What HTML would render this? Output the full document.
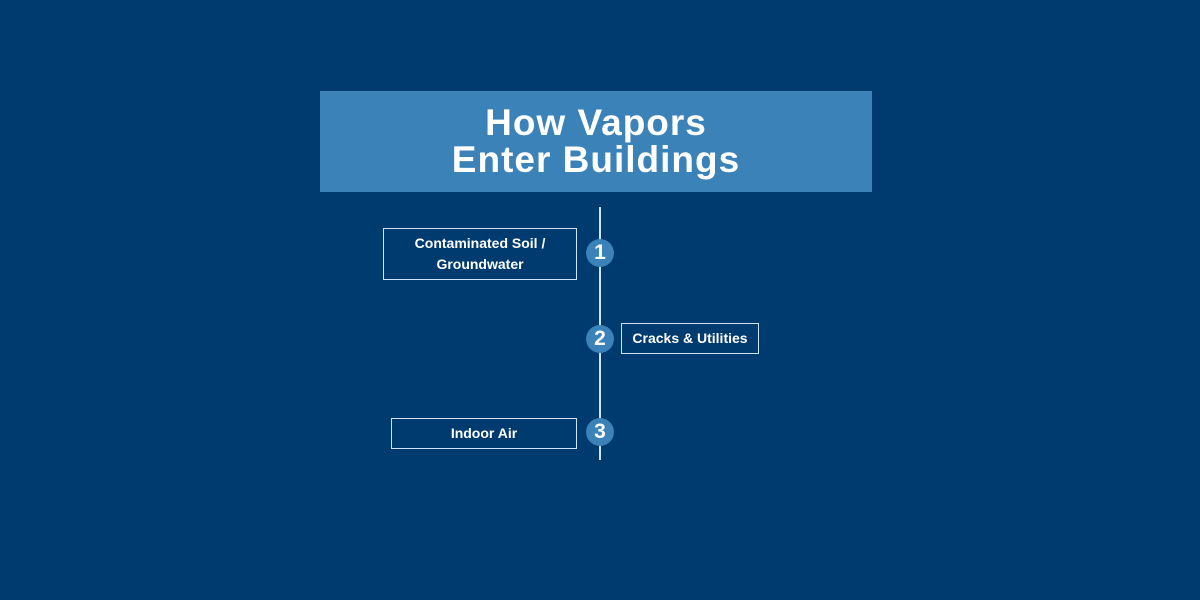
<!DOCTYPE html>
<html><head><style>
body{margin:0;width:1200px;height:600px;background:#003b6f;font-family:"Liberation Sans",sans-serif;position:relative;overflow:hidden}
.t{position:absolute;left:320px;top:91px;width:552px;height:101px;background:#3a82b8;color:#fff;font-weight:bold;font-size:37px;letter-spacing:1px;line-height:37px;text-align:center;box-sizing:border-box;padding-top:13px}
.line{position:absolute;left:599px;top:207px;width:2px;height:253px;background:#cfe3f2}
.c{position:absolute;width:28px;height:28px;border-radius:50%;background:#3a82b8;color:#fff;font-weight:bold;font-size:21px;line-height:28px;text-align:center}
.b{position:absolute;border:1px solid #cfe3f2;color:#fff;font-weight:bold;font-size:14px;text-align:center;box-sizing:border-box;display:flex;align-items:center;justify-content:center;line-height:21px}
</style></head><body>
<div class="t">How Vapors<br>Enter Buildings</div>
<div class="line"></div>
<div class="c" style="left:586px;top:239px">1</div>
<div class="c" style="left:586px;top:325px">2</div>
<div class="c" style="left:586px;top:418px">3</div>
<div class="b" style="left:383px;top:228px;width:194px;height:52px">Contaminated Soil /<br>Groundwater</div>
<div class="b" style="left:621px;top:323px;width:138px;height:31px">Cracks &amp; Utilities</div>
<div class="b" style="left:391px;top:418px;width:186px;height:31px">Indoor Air</div>
</body></html>
